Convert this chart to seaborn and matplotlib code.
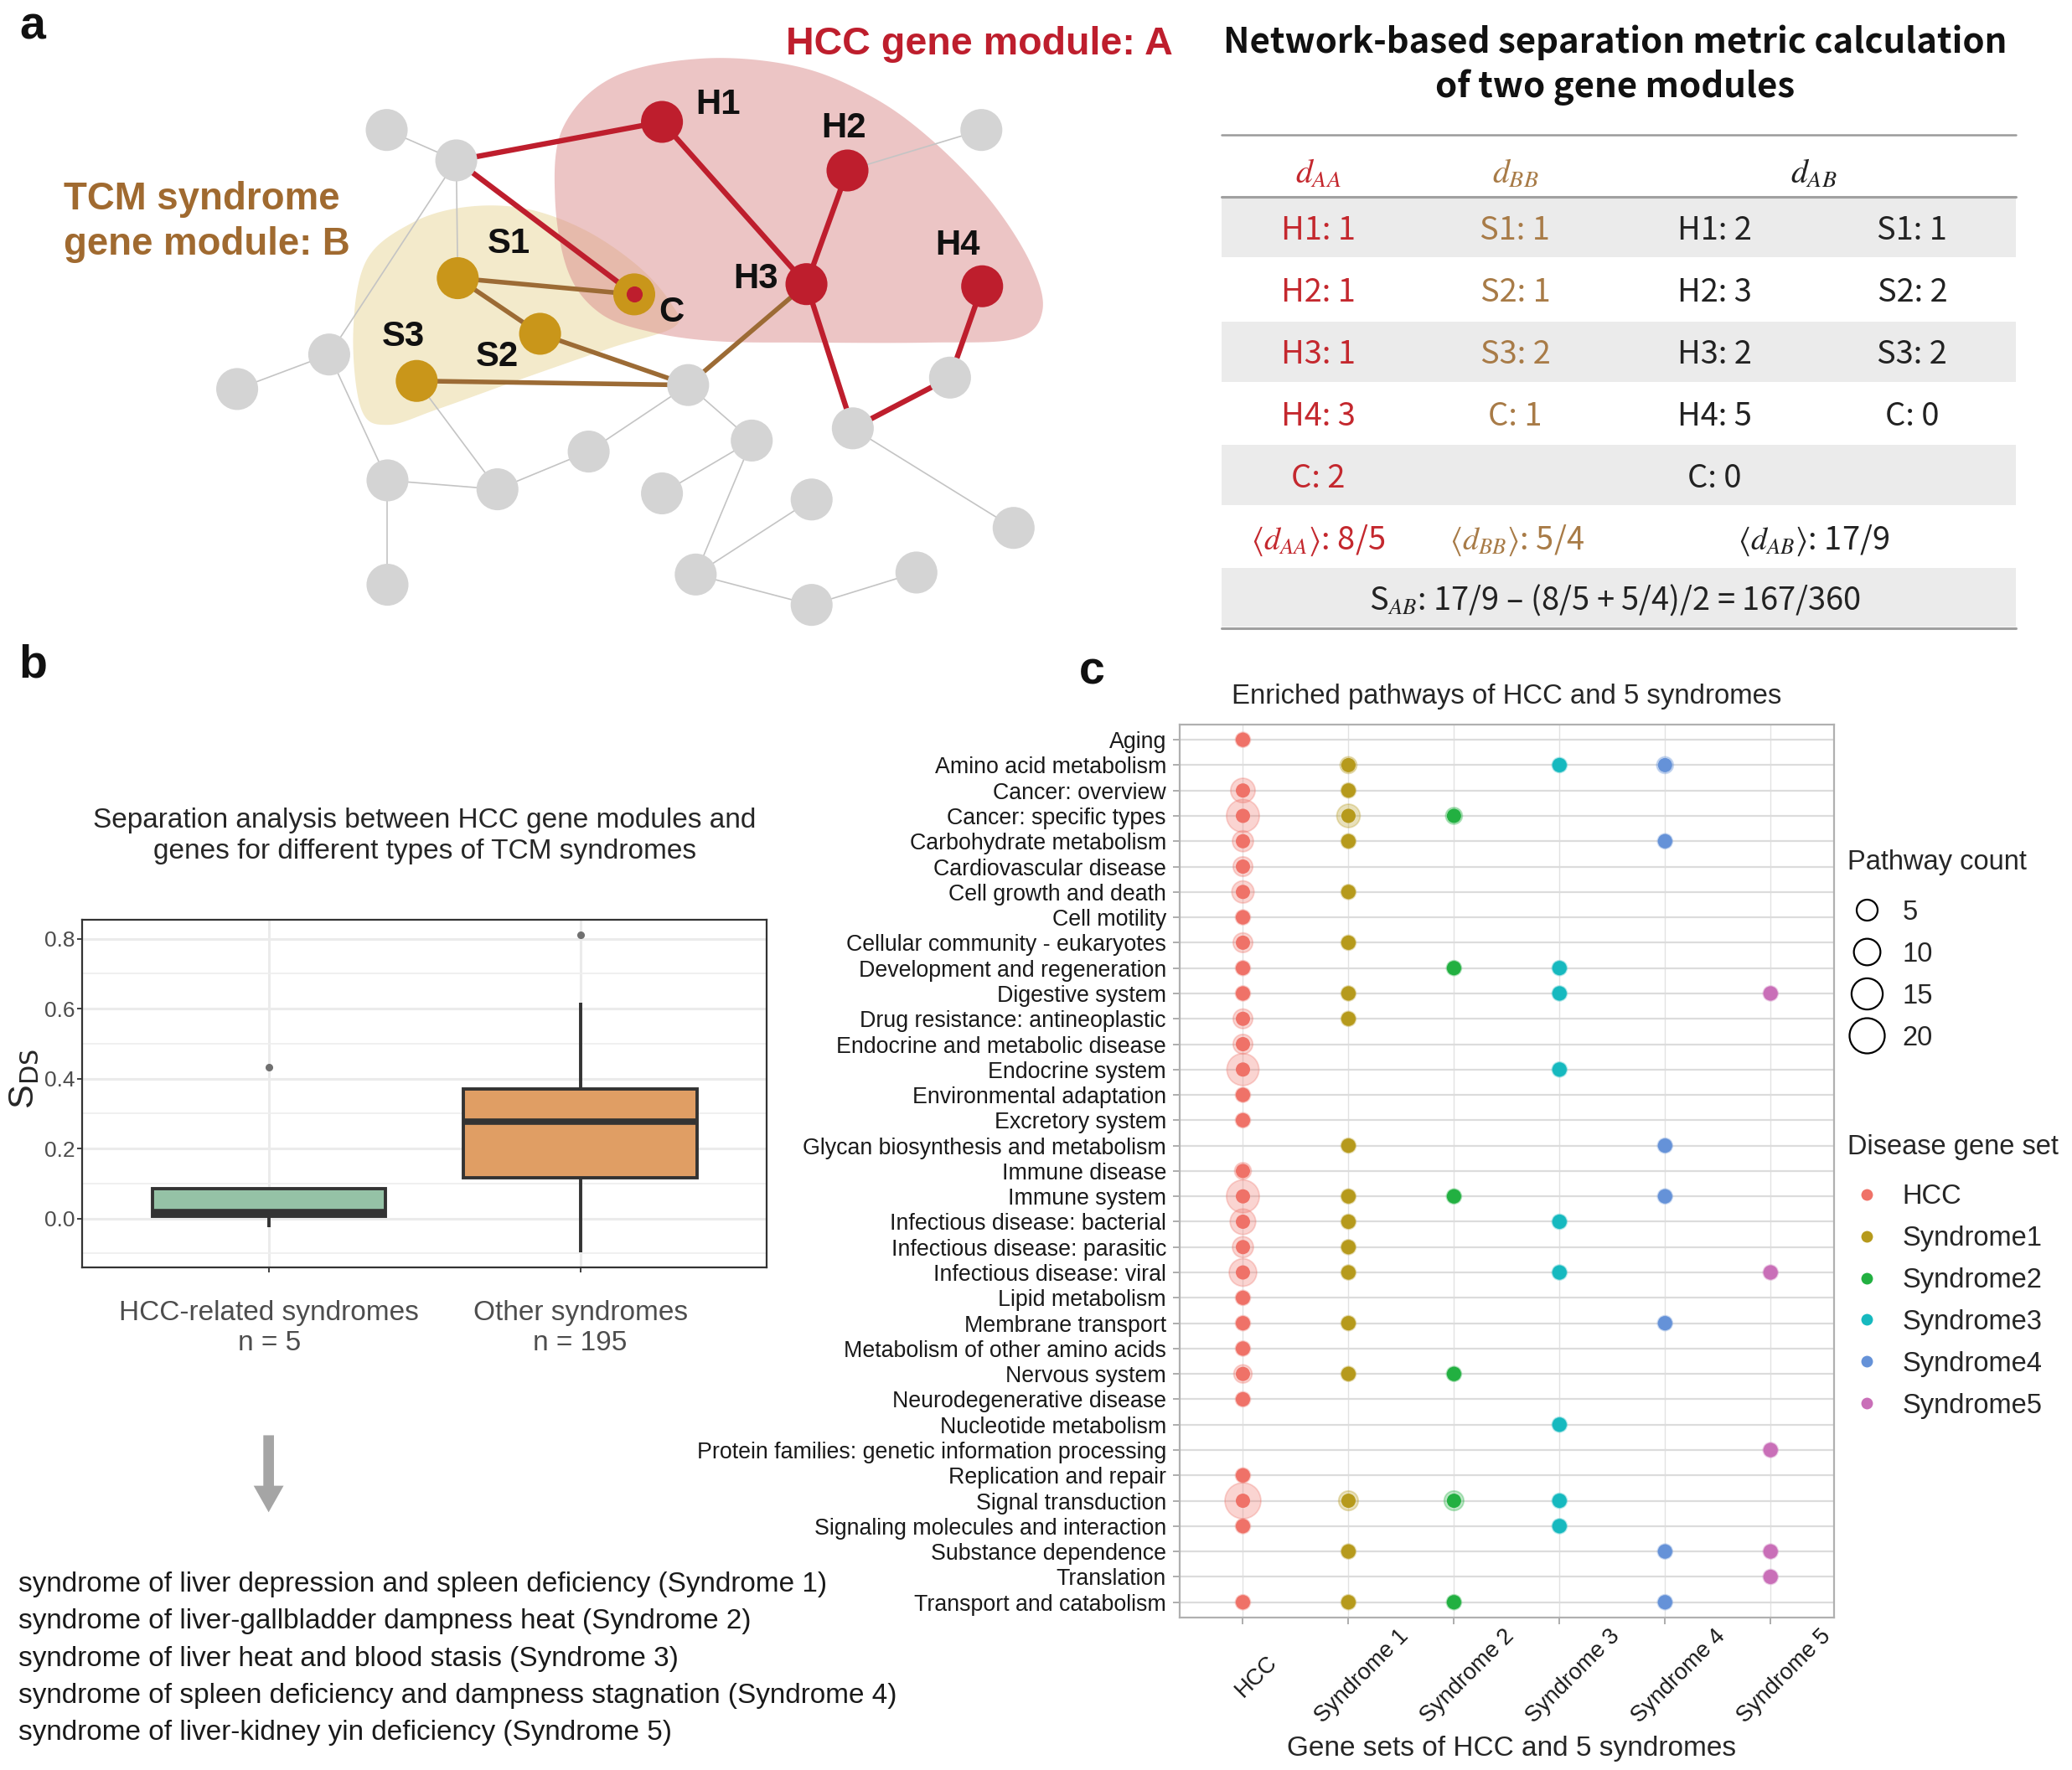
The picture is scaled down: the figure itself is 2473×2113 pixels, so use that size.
import numpy as np
import pandas as pd
import matplotlib
matplotlib.use("Agg")
import matplotlib.pyplot as plt
import seaborn as sns
from matplotlib.lines import Line2D
from matplotlib.patches import Polygon, Rectangle
from matplotlib.transforms import ScaledTranslation

# ======================= DATA =======================
# ---- panel c: enriched pathways (counts; 0 = not enriched) ----
pathways = [
    "Aging", "Amino acid metabolism", "Cancer: overview", "Cancer: specific types",
    "Carbohydrate metabolism", "Cardiovascular disease", "Cell growth and death",
    "Cell motility", "Cellular community - eukaryotes", "Development and regeneration",
    "Digestive system", "Drug resistance: antineoplastic", "Endocrine and metabolic disease",
    "Endocrine system", "Environmental adaptation", "Excretory system",
    "Glycan biosynthesis and metabolism", "Immune disease", "Immune system",
    "Infectious disease: bacterial", "Infectious disease: parasitic", "Infectious disease: viral",
    "Lipid metabolism", "Membrane transport", "Metabolism of other amino acids",
    "Nervous system", "Neurodegenerative disease", "Nucleotide metabolism",
    "Protein families: genetic information processing", "Replication and repair",
    "Signal transduction", "Signaling molecules and interaction", "Substance dependence",
    "Translation", "Transport and catabolism"]
gene_sets = ["HCC", "Syndrome1", "Syndrome2", "Syndrome3", "Syndrome4", "Syndrome5"]
gene_set_ticks = ["HCC", "Syndrome 1", "Syndrome 2", "Syndrome 3", "Syndrome 4", "Syndrome 5"]
count_hcc  = [1, 0, 8, 17, 5, 4, 6, 1, 4, 1, 1, 4, 4, 16, 1, 1, 0, 2, 17, 9, 5, 11, 1, 1, 1, 3, 1, 0, 0, 1, 21, 1, 0, 0, 1]
count_syn1 = [0, 2, 1, 7, 1, 0, 1, 0, 1, 0, 1, 1, 0, 0, 0, 0, 1, 0, 1, 1, 1, 1, 0, 1, 0, 1, 0, 0, 0, 0, 4, 0, 1, 0, 1]
count_syn2 = [0, 0, 0, 2, 0, 0, 0, 0, 0, 1, 0, 0, 0, 0, 0, 0, 0, 0, 1, 0, 0, 0, 0, 0, 0, 1, 0, 0, 0, 0, 4, 0, 0, 0, 1]
count_syn3 = [0, 1, 0, 0, 0, 0, 0, 0, 0, 1, 1, 0, 0, 1, 0, 0, 0, 0, 0, 1, 0, 1, 0, 0, 0, 0, 0, 1, 0, 0, 1, 1, 0, 0, 0]
count_syn4 = [0, 2, 0, 0, 1, 0, 0, 0, 0, 0, 0, 0, 0, 0, 0, 0, 1, 0, 1, 0, 0, 0, 0, 1, 0, 0, 0, 0, 0, 0, 0, 0, 1, 0, 1]
count_syn5 = [0, 0, 0, 0, 0, 0, 0, 0, 0, 0, 1, 0, 0, 0, 0, 0, 0, 0, 0, 0, 0, 1, 0, 0, 0, 0, 0, 0, 1, 0, 0, 0, 1, 1, 0]
size_legend_counts = [5, 10, 15, 20]
gene_set_colors = ["#EF7268", "#B69A1C", "#22B041", "#16B9BF", "#6592D8", "#C96FB8"]

# ---- panel b: separation S_DS ----
groups = ["HCC-related syndromes", "Other syndromes"]
group_tick_labels = ["HCC-related syndromes\nn = 5", "Other syndromes\nn = 195"]
hcc_related_sds = [-0.025, 0.007, 0.018, 0.085, 0.432]
other_sds_values = [-0.096, 0.00, 0.06, 0.117, 0.20, 0.278, 0.33, 0.371, 0.45, 0.55, 0.616, 0.811]
other_sds_counts = [1, 20, 27, 2, 47, 1, 47, 2, 30, 16, 1, 1]
box_colors = ["#95C2A6", "#E09E64"]
syndrome_names = [
    "syndrome of liver depression and spleen deficiency (Syndrome 1)",
    "syndrome of liver-gallbladder dampness heat (Syndrome 2)",
    "syndrome of liver heat and blood stasis (Syndrome 3)",
    "syndrome of spleen deficiency and dampness stagnation (Syndrome 4)",
    "syndrome of liver-kidney yin deficiency (Syndrome 5)"]

# ---- panel a: separation table ----
daa_items = ["H1: 1", "H2: 1", "H3: 1", "H4: 3", "C: 2"]
dbb_items = ["S1: 1", "S2: 1", "S3: 2", "C: 1", ""]
dab_h_items = ["H1: 2", "H2: 3", "H3: 2", "H4: 5", "C: 0"]
dab_s_items = ["S1: 1", "S2: 2", "S3: 2", "C: 0", ""]
mean_daa, mean_dbb, mean_dab = "8/5", "5/4", "17/9"
sab_formula = "17/9 – (8/5 + 5/4)/2 = 167/360"

# ---- panel a: network schematic (reference layout units) ----
node_pos = {
    "g1": (291.2, 97.9), "g2": (343.6, 120.8), "g3": (247.9, 267.0), "g4": (178.6, 293.0),
    "g5": (291.8, 361.8), "g6": (374.6, 368.5), "g7": (443.3, 340.1), "g8": (518.2, 290.0),
    "g9": (566.1, 331.8), "g10": (498.5, 371.6), "g11": (611.2, 376.2), "g12": (523.9, 432.7),
    "g13": (611.2, 455.6), "g14": (690.1, 431.2), "g15": (291.8, 440.4), "g16": (642.2, 322.6),
    "g17": (715.4, 284.4), "g18": (739.0, 97.9), "g19": (763.3, 397.6),
    "H1": (498.5, 91.8), "H2": (638.2, 128.4), "H3": (607.3, 214.0), "H4": (739.6, 215.6),
    "S1": (344.7, 209.5), "S2": (406.7, 251.4), "S3": (313.8, 286.9), "C": (477.6, 221.7)}
gray_edges = [("g1", "g2"), ("g2", "g3"), ("g2", "S1"), ("g3", "g4"), ("g3", "g5"), ("g5", "g6"),
              ("g5", "g15"), ("g6", "S3"), ("g6", "g7"), ("g7", "g8"), ("g8", "g9"), ("g10", "g9"),
              ("g9", "g12"), ("g12", "g11"), ("g12", "g13"), ("g13", "g14"), ("g16", "g19"),
              ("g18", "H2")]
red_edges = [("g2", "H1"), ("g2", "C"), ("H1", "H3"), ("H2", "H3"), ("H3", "g16"),
             ("g16", "g17"), ("g17", "H4")]
brown_edges = [("S1", "C"), ("S1", "S2"), ("S2", "g8"), ("S3", "g8"), ("H3", "g8")]
node_labels = {"H1": (540.8, 78.9), "H2": (635.4, 96.3), "H3": (568.9, 210.4),
               "H4": (721.0, 185.0), "S1": (383.0, 183.5), "S2": (374.6, 269.0),
               "S3": (304.0, 253.8), "C": (505.9, 235.5)}
hcc_region = [(418, 150), (424, 96), (462, 58), (530, 44), (600, 50), (655, 72), (700, 104),
              (745, 150), (776, 198), (785, 234), (765, 255), (700, 258), (610, 258),
              (540, 257), (490, 250), (452, 236), (428, 205)]
tcm_region = [(276, 196), (310, 168), (350, 156), (395, 157), (440, 173), (480, 200),
              (505, 228), (508, 246), (460, 262), (394, 285), (330, 308), (292, 320),
              (272, 308), (266, 250)]

# ======================= FIGURE =======================
sns.set_theme(style="white")
plt.rcParams["font.family"] = ["Liberation Sans", "DejaVu Sans"]
plt.rcParams["mathtext.fontset"] = "dejavusans"

W_PX, H_PX = 2473, 2113
W, H = 1560.3, 1333.1          # reference layout units
SC = W_PX / W

fig = plt.figure(figsize=(W_PX / 100, H_PX / 100), dpi=100)
renderer = fig.canvas.get_renderer()


def rect(x0, y0, x1, y1):
    return [x0 / W, 1 - y1 / H, (x1 - x0) / W, (y1 - y0) / H]


def fit(t, target):
    w = t.get_window_extent(renderer).width
    t.set_fontsize(t.get_fontsize() * target * SC / w)
    return t.get_fontsize()


# ---------------- panel c ----------------
all_counts = [count_hcc, count_syn1, count_syn2, count_syn3, count_syn4, count_syn5]
rows = []
for gi, (gs, cnts) in enumerate(zip(gene_sets, all_counts)):
    for pi, c in enumerate(cnts):
        if c > 0:
            rows.append({"gene_set": gs, "x": gi, "y": pi, "count": c})
df_c = pd.DataFrame(rows)
pal = dict(zip(gene_sets, gene_set_colors))

S_MIN, S_MAX = 166.0, 954.0
CMIN, CMAX = 1, 21

ax_c = fig.add_axes(rect(888.3, 545.7, 1381.0, 1218.2))
sns.scatterplot(data=df_c, x="x", y="y", hue="gene_set", hue_order=gene_sets, palette=pal,
                size="count", sizes=(S_MIN, S_MAX), size_norm=(CMIN, CMAX), alpha=0.3,
                edgecolor="face", linewidth=1.3, legend=False, ax=ax_c, zorder=3)
sns.scatterplot(data=df_c, x="x", y="y", hue="gene_set", hue_order=gene_sets, palette=pal,
                s=150, linewidth=0, alpha=1, legend=False, ax=ax_c, zorder=4)
ax_c.set_xlim(-0.6, 5.6)
ax_c.set_ylim(len(pathways) - 0.4, -0.6)
ax_c.set_xticks(range(len(gene_sets)))
ax_c.set_xticklabels(gene_set_ticks, rotation=45, ha="center", va="top",
                     rotation_mode="anchor", fontsize=19.5, color="#1A1A1A")
ax_c.set_yticks(range(len(pathways)))
ax_c.set_yticklabels(pathways, fontsize=19.3, color="#1A1A1A")
ax_c.tick_params(axis="y", length=6, width=1.2, color="#A0A0A0", pad=5.5, left=True)
ax_c.tick_params(axis="x", length=6, width=1.2, color="#A0A0A0", pad=38, bottom=True)
for lbl in ax_c.get_xticklabels():
    lbl.set_transform(lbl.get_transform() + ScaledTranslation(0.07, 0, fig.dpi_scale_trans))
ax_c.set_axisbelow(True)
ax_c.grid(True, axis="y", color="#DCDCDC", lw=1.6)
ax_c.grid(True, axis="x", color="#E2E2E2", lw=1.0)
for sp in ax_c.spines.values():
    sp.set_color("#B0B0B0")
    sp.set_linewidth(1.6)
ax_c.set_title("Enriched pathways of HCC and 5 syndromes", fontsize=23.7, pad=18)
ax_c.set_ylabel("")
ax_c.set_xlabel("Gene sets of HCC and 5 syndromes", fontsize=24)
ax_c.xaxis.set_label_coords(0.507, -0.1320)


def size_of(c):
    return S_MIN + (c - CMIN) / (CMAX - CMIN) * (S_MAX - S_MIN)


LEG_FS = 23.5
LEG_KW = dict(loc="upper left", frameon=False, fontsize=LEG_FS, title_fontsize=LEG_FS,
              alignment="left", borderpad=0, borderaxespad=0, handlelength=1.45,
              handletextpad=0.57, labelspacing=0.58, handleheight=0.7)
size_handles = [Line2D([], [], linestyle="", marker="o", markersize=np.sqrt(size_of(c)),
                       markerfacecolor="none", markeredgecolor="black", markeredgewidth=1.6)
                for c in size_legend_counts]
leg1 = fig.legend(size_handles, [str(c) for c in size_legend_counts], title="Pathway count",
                  bbox_to_anchor=(1391 / W, 1 - 640 / H), **LEG_KW)
hue_handles = [Line2D([], [], linestyle="", marker="o", markersize=10, markerfacecolor=c,
                      markeredgewidth=0) for c in gene_set_colors]
leg2 = fig.legend(hue_handles, gene_sets, title="Disease gene set",
                  bbox_to_anchor=(1391 / W, 1 - 854 / H), **LEG_KW)
for lg in (leg1, leg2):
    try:
        lg._legend_box.sep = 20.5   # gap between legend title and first key (points)
    except Exception:
        pass

# ---------------- panel b ----------------
other_sds = np.repeat(other_sds_values, other_sds_counts)
df_b = pd.DataFrame({
    "group": [groups[0]] * len(hcc_related_sds) + [groups[1]] * len(other_sds),
    "S_DS": list(hcc_related_sds) + list(other_sds)})
ax_b = fig.add_axes(rect(62, 693, 577.6, 954.6))
sns.boxplot(data=df_b, x="group", y="S_DS", hue="group", order=groups, hue_order=groups,
            palette=box_colors, width=0.75, linewidth=2.8, linecolor="#333333",
            showcaps=False, saturation=1, legend=False, ax=ax_b,
            flierprops=dict(marker="o", markersize=5.5, markerfacecolor="#707070",
                            markeredgecolor="#707070"),
            medianprops=dict(linewidth=5.5, color="#333333"))
ax_b.set_xlim(-0.6, 1.6)
ax_b.set_ylim(-0.140, 0.853)
ax_b.set_yticks([0.0, 0.2, 0.4, 0.6, 0.8])
ax_b.set_yticklabels(["0.0", "0.2", "0.4", "0.6", "0.8"], fontsize=19, color="#4D4D4D")
ax_b.set_yticks([-0.1, 0.1, 0.3, 0.5, 0.7], minor=True)
ax_b.set_xticks([0, 1])
ax_b.set_xticklabels(group_tick_labels, fontsize=24, color="#4D4D4D", linespacing=1.2)
ax_b.tick_params(axis="y", which="major", length=4, width=1.3, color="#333333", pad=2, left=True)
ax_b.tick_params(axis="y", which="minor", length=0)
ax_b.tick_params(axis="x", length=4, width=1.3, color="#333333", pad=24, bottom=True)
ax_b.set_axisbelow(True)
ax_b.grid(True, which="major", color="#EBEBEB", lw=2.2)
ax_b.grid(True, which="minor", axis="y", color="#EFEFEF", lw=1.3)
for sp in ax_b.spines.values():
    sp.set_color("#333333")
    sp.set_linewidth(1.6)
ax_b.set_xlabel("")
ax_b.set_ylabel(r"S$_{\mathrm{DS}}$", fontsize=31)
ax_b.yaxis.set_label_coords(-0.060, 0.543)
ax_b.set_title("Separation analysis between HCC gene modules and\n"
               "genes for different types of TCM syndromes", fontsize=24, pad=53,
               linespacing=1.25)

# ---------------- overlay (panel a + annotations) ----------------
ax_o = fig.add_axes([0, 0, 1, 1])
ax_o.set_xlim(0, W)
ax_o.set_ylim(H, 0)
ax_o.axis("off")


def smooth_closed(pts, n=24):
    p = np.asarray(pts, float)
    N = len(p)
    out = []
    for i in range(N):
        p0, p1, p2, p3 = p[(i - 1) % N], p[i], p[(i + 1) % N], p[(i + 2) % N]
        for t in np.linspace(0, 1, n, endpoint=False):
            t2, t3 = t * t, t * t * t
            out.append(0.5 * ((2 * p1) + (-p0 + p2) * t + (2 * p0 - 5 * p1 + 4 * p2 - p3) * t2
                              + (-p0 + 3 * p1 - 3 * p2 + p3) * t3))
    return np.array(out)


ax_o.add_patch(Polygon(smooth_closed(tcm_region), closed=True, facecolor="#F3EACB",
                       edgecolor="none", zorder=1))
ax_o.add_patch(Polygon(smooth_closed(hcc_region), closed=True, facecolor="#DB8C8C",
                       alpha=0.5, edgecolor="none", zorder=1))

for a, b in gray_edges:
    (x1, y1), (x2, y2) = node_pos[a], node_pos[b]
    ax_o.plot([x1, x2], [y1, y2], color="#C4C4C4", lw=1.2, zorder=2, solid_capstyle="round")
for a, b in brown_edges:
    (x1, y1), (x2, y2) = node_pos[a], node_pos[b]
    ax_o.plot([x1, x2], [y1, y2], color="#9C6B35", lw=4.0, zorder=3, solid_capstyle="round")
for a, b in red_edges:
    (x1, y1), (x2, y2) = node_pos[a], node_pos[b]
    ax_o.plot([x1, x2], [y1, y2], color="#BE1E2D", lw=4.6, zorder=3, solid_capstyle="round")

node_color = []
for k in node_pos:
    if k.startswith("g"):
        node_color.append("#D4D4D4")
    elif k.startswith("H"):
        node_color.append("#BE1E2D")
    else:
        node_color.append("#C9961A")
xs = [v[0] for v in node_pos.values()]
ys = [v[1] for v in node_pos.values()]
ax_o.scatter(xs, ys, s=1300, c=node_color, linewidths=0, zorder=5)
ax_o.scatter([node_pos["C"][0]], [node_pos["C"][1]], s=190, c="#BE1E2D", linewidths=0, zorder=6)

NARROW = ["Liberation Sans Narrow", "Liberation Sans", "DejaVu Sans"]
lab_size = None
for k, (x, y) in node_labels.items():
    t = ax_o.text(x, y, k, fontsize=29, fontweight="bold", ha="center", va="center",
                  color="#111111", family=NARROW, zorder=7)
    if lab_size is None:
        lab_size = fit(t, 33.8)
    else:
        t.set_fontsize(lab_size)

t = ax_o.text(592, 33.6, "HCC gene module: A", fontsize=31, fontweight="bold", ha="left",
              va="center", color="#BE1E2D", family=NARROW)
fit(t, 291)
t1 = ax_o.text(47.9, 149.9, "TCM syndrome", fontsize=32, fontweight="bold", ha="left",
               va="center", color="#A06A30", family=NARROW)
fs = fit(t1, 208.4)
ax_o.text(47.9, 184.5, "gene module: B", fontsize=fs, fontweight="bold", ha="left",
          va="center", color="#A06A30", family=NARROW)

# panel letters
for letter, (x, y) in {"a": (24.3, 20.5), "b": (24.8, 501.0), "c": (822.0, 506.0)}.items():
    ax_o.text(x, y, letter, fontsize=40, fontweight="bold", ha="center", va="center",
              color="#111111")

# ---- table ----
CJK = ["Noto Sans CJK SC", "DejaVu Sans"]
RED, BROWN, BLACK = "#C4282E", "#A87B47", "#222222"
TX0, TX1 = 920, 1518
tt = ax_o.text(1216, 32, "Network-based separation metric calculation", ha="center",
               va="center", fontsize=26, fontweight="bold", family=CJK, color="#111111")
tfs = fit(tt, 591)
ax_o.text(1216, 66, "of two gene modules", ha="center", va="center", fontsize=tfs,
          fontweight="bold", family=CJK, color="#111111")
for y0, y1 in [(149, 194), (242, 287.5), (335, 380.5), (428, 472)]:
    ax_o.add_patch(Rectangle((TX0, y0), TX1 - TX0, y1 - y0, facecolor="#EBEBEB",
                             edgecolor="none", zorder=1))
ax_o.plot([TX0, TX1], [101.6, 101.6], color="#9A9A9A", lw=1.8, zorder=2)
ax_o.plot([TX0, TX1], [148.3, 148.3], color="#A0A0A0", lw=2.2, zorder=2)
ax_o.plot([TX0, TX1], [473, 473], color="#A0A0A0", lw=2.2, zorder=2)

hdr = ax_o.text(992.6, 131, r"$d_{AA}$", ha="center", va="center", fontsize=22, color=RED,
                math_fontfamily="stix")
hfs = fit(hdr, 35)
ax_o.text(1141, 131, r"$d_{BB}$", ha="center", va="center", fontsize=hfs, color=BROWN,
          math_fontfamily="stix")
ax_o.text(1366, 131, r"$d_{AB}$", ha="center", va="center", fontsize=hfs, color=BLACK,
          math_fontfamily="stix")

row_y = [173.5, 220.5, 267, 314, 360.5]
probe = ax_o.text(992.6, row_y[0], daa_items[0], ha="center", va="center", fontsize=20,
                  color=RED, family=CJK, fontweight="light")
rfs = fit(probe, 56)
cols = [(992.6, daa_items, RED), (1141, dbb_items, BROWN), (1291, dab_h_items, BLACK),
        (1440, dab_s_items, BLACK)]
for ci, (x, items, col) in enumerate(cols):
    for ri, s in enumerate(items):
        if (ci == 0 and ri == 0) or not s:
            continue
        ax_o.text(x, row_y[ri], s, ha="center", va="center", fontsize=rfs, color=col,
                  family=CJK, fontweight="light")
ax_o.text(992.6, 407, r"$\langle d_{AA}\rangle$: " + mean_daa, ha="center", va="center",
          fontsize=rfs, color=RED, family=CJK, fontweight="light", math_fontfamily="stix")
ax_o.text(1142, 407, r"$\langle d_{BB}\rangle$: " + mean_dbb, ha="center", va="center",
          fontsize=rfs, color=BROWN, family=CJK, fontweight="light", math_fontfamily="stix")
ax_o.text(1366, 407, r"$\langle d_{AB}\rangle$: " + mean_dab, ha="center", va="center",
          fontsize=rfs, color=BLACK, family=CJK, fontweight="light", math_fontfamily="stix")
ax_o.text(1216, 452, r"S$_{AB}$: " + sab_formula, ha="center", va="center", fontsize=rfs,
          color=BLACK, family=CJK, fontweight="light", math_fontfamily="stix")

# ---- arrow + syndrome list (panel b) ----
ax_o.arrow(202.3, 1081, 0, 58, width=8, head_width=22.6, head_length=20,
           length_includes_head=True, color="#A5A5A5", lw=0)
sl = ax_o.text(14.1, 1193.5 + 3 * 27.9, syndrome_names[3], ha="left", va="center",
               fontsize=24, color="#1A1A1A")
sfs = fit(sl, 662)
for i, s in enumerate(syndrome_names):
    if i == 3:
        continue
    ax_o.text(14.1, 1193.5 + i * 27.9, s, ha="left", va="center", fontsize=sfs,
              color="#1A1A1A")

fig.savefig("out.png", dpi=100)
